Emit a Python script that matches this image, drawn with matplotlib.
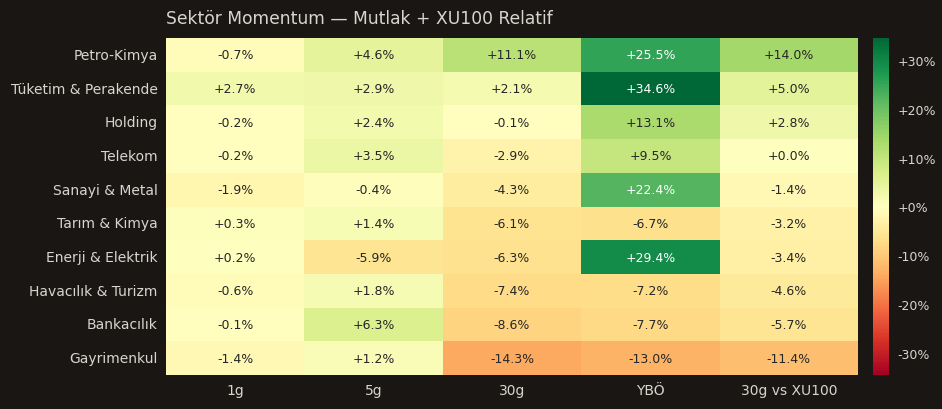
import numpy as np
import matplotlib
matplotlib.use('Agg')
import matplotlib.pyplot as plt
import seaborn as sns

# veriler
sektorler = ['Petro-Kimya', 'Tüketim & Perakende', 'Holding', 'Telekom', 'Sanayi & Metal',
             'Tarım & Kimya', 'Enerji & Elektrik', 'Havacılık & Turizm', 'Bankacılık', 'Gayrimenkul']
kolonlar = ['1g', '5g', '30g', 'YBÖ', '30g vs XU100']
getiri_1g = [-0.7, 2.7, -0.2, -0.2, -1.9, 0.3, 0.2, -0.6, -0.1, -1.4]
getiri_5g = [4.6, 2.9, 2.4, 3.5, -0.4, 1.4, -5.9, 1.8, 6.3, 1.2]
getiri_30g = [11.1, 2.1, -0.1, -2.9, -4.3, -6.1, -6.3, -7.4, -8.6, -14.3]
getiri_ybo = [25.5, 34.6, 13.1, 9.5, 22.4, -6.7, 29.4, -7.2, -7.7, -13.0]
relatif_xu100 = [14.0, 5.0, 2.8, 0.0, -1.4, -3.2, -3.4, -4.6, -5.7, -11.4]
cbar_ticks = [-30, -20, -10, 0, 10, 20, 30]

bg = '#1a1613'
fg = '#d8d4cf'

data = np.column_stack([getiri_1g, getiri_5g, getiri_30g, getiri_ybo, relatif_xu100])
etiketler = np.array([['%+.1f%%' % v for v in row] for row in data])
vmax = np.abs(data).max()

fig = plt.figure(figsize=(9.42, 4.10), dpi=100, facecolor=bg)
ax = fig.add_axes([166 / 942, 34 / 410, 692 / 942, 337 / 410])
cax = fig.add_axes([873 / 942, 34 / 410, 16 / 942, 337 / 410])

sns.heatmap(data, ax=ax, cbar_ax=cax, cmap='RdYlGn', vmin=-vmax, vmax=vmax,
            annot=etiketler, fmt='', annot_kws={'fontsize': 9},
            xticklabels=kolonlar, yticklabels=sektorler)

ax.set_facecolor(bg)
ax.tick_params(axis='both', length=0, colors=fg, labelsize=10, pad=6)
ax.set_yticklabels(sektorler, rotation=0, color=fg)
ax.set_xticklabels(kolonlar, rotation=0, color=fg)
ax.set_title('Sektör Momentum — Mutlak + XU100 Relatif', color=fg, fontsize=12.3,
             loc='left', pad=11)

cbar = ax.collections[0].colorbar
cbar.outline.set_visible(False)
cbar.set_ticks(cbar_ticks)
cbar.set_ticklabels(['%+d%%' % t for t in cbar_ticks])
cax.tick_params(colors=fg, labelsize=9, length=0, pad=6)

fig.savefig('out.png', dpi=100, facecolor=bg)
